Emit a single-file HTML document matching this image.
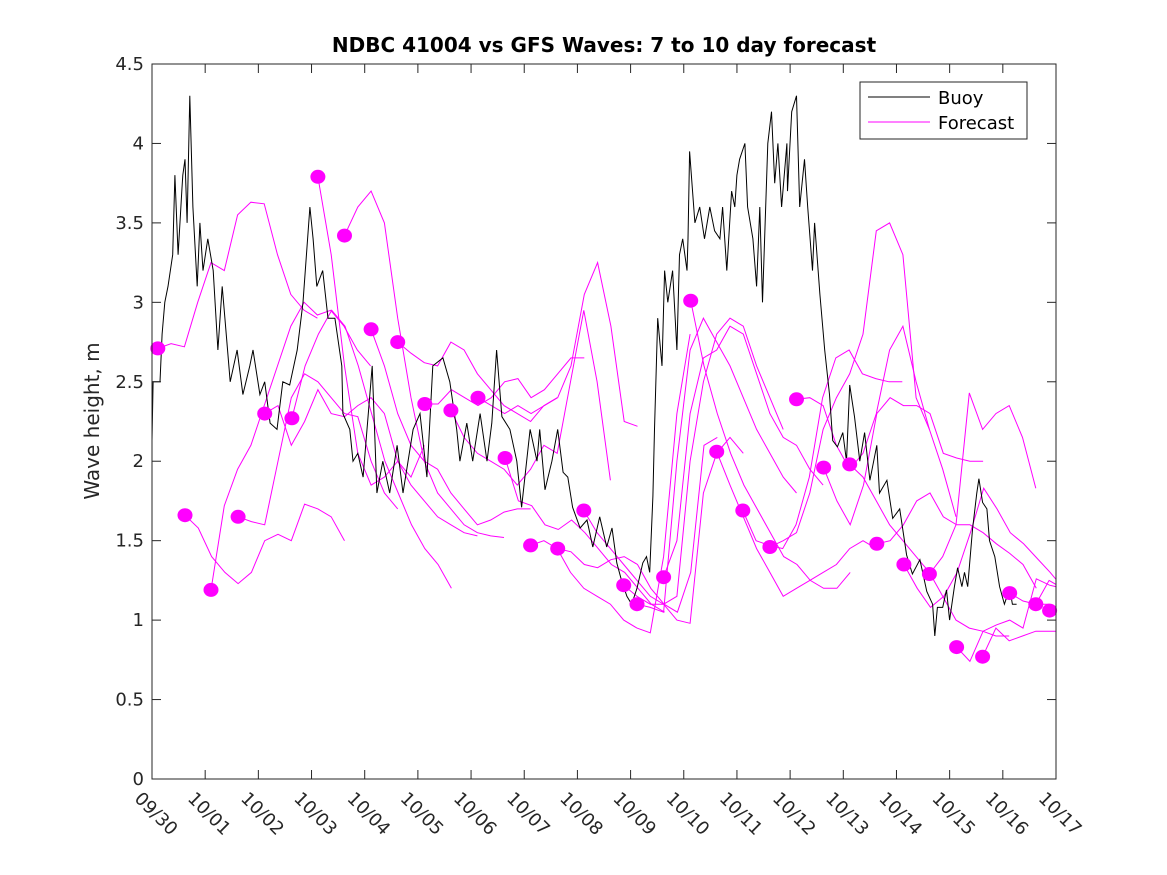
<!DOCTYPE html>
<html><head><meta charset="utf-8"><style>
html,body{margin:0;padding:0;background:#fff;}
svg{display:block;font-family:"DejaVu Sans","Liberation Sans",sans-serif;}
</style></head><body>
<svg id="chart" width="1167" height="875" viewBox="0 0 1167 875" xmlns="http://www.w3.org/2000/svg">
<rect x="0" y="0" width="1167" height="875" fill="#fff"/>
<rect x="152" y="64" width="904" height="715" fill="#fff"/>
<g id="forecasts"></g>
<g id="buoy"></g>
<g id="dots"></g>
<g id="axes"></g>
<text x="604" y="52" text-anchor="middle" font-size="20" font-weight="bold" fill="#000">NDBC 41004 vs GFS Waves: 7 to 10 day forecast</text>
<text transform="translate(99,421) rotate(-90)" text-anchor="middle" font-size="20" fill="#262626">Wave height, m</text>
<g>
<rect x="860" y="82" width="167" height="57" fill="#fff" stroke="#262626" stroke-width="1"/>
<line x1="868" y1="97" x2="930" y2="97" stroke="#000" stroke-width="1"/>
<text x="938" y="104" font-size="18" fill="#000">Buoy</text>
<line x1="868" y1="122" x2="930" y2="122" stroke="#ff00ff" stroke-width="1"/>
<text x="938" y="129" font-size="18" fill="#000">Forecast</text>
</g>
</svg>
<script>
const xTickLabels = ["09/30","10/01","10/02","10/03","10/04","10/05","10/06","10/07","10/08","10/09","10/10","10/11","10/12","10/13","10/14","10/15","10/16","10/17"];
const yTickValues = [0,0.5,1,1.5,2,2.5,3,3.5,4,4.5];
const yTickLabels = ["0","0.5","1","1.5","2","2.5","3","3.5","4","4.5"];
const buoyDays = [0,.02,.15,.19,.24,.30,.39,.43,.49,.56,.58,.62,.66,.71,.77,.85,.90,.96,1.05,1.15,1.24,1.32,1.37,1.47,1.60,1.71,1.84,1.90,2.03,2.12,2.22,2.35,2.46,2.59,2.73,2.84,2.97,3.03,3.10,3.21,3.31,3.44,3.57,3.59,3.72,3.78,3.87,3.97,4.14,4.23,4.34,4.47,4.61,4.72,4.91,5.04,5.17,5.28,5.47,5.60,5.73,5.79,5.92,6.03,6.17,6.30,6.39,6.48,6.58,6.73,6.86,6.95,7.11,7.24,7.29,7.39,7.52,7.63,7.73,7.82,7.91,8.05,8.18,8.29,8.42,8.55,8.65,8.74,8.83,8.93,9.02,9.12,9.23,9.30,9.36,9.42,9.45,9.51,9.59,9.64,9.70,9.79,9.87,9.92,9.98,10.06,10.08,10.11,10.21,10.30,10.39,10.49,10.58,10.68,10.73,10.81,10.90,10.96,11.00,11.05,11.15,11.20,11.30,11.37,11.43,11.48,11.58,11.65,11.71,11.77,11.84,11.94,11.95,12.03,12.12,12.18,12.27,12.33,12.42,12.46,12.56,12.65,12.74,12.80,12.89,12.99,13.06,13.12,13.21,13.31,13.40,13.50,13.63,13.68,13.82,13.93,14.06,14.19,14.30,14.44,14.57,14.68,14.72,14.77,14.87,14.94,15.00,15.09,15.15,15.23,15.28,15.34,15.43,15.51,15.55,15.62,15.70,15.75,15.85,15.94,16.03,16.13,16.18,16.26];
const buoyHeights = [2.13,2.5,2.5,2.8,3.0,3.1,3.3,3.8,3.3,3.7,3.8,3.9,3.5,4.3,3.6,3.1,3.5,3.2,3.4,3.2,2.7,3.1,2.9,2.5,2.7,2.42,2.6,2.7,2.42,2.5,2.24,2.2,2.5,2.48,2.7,3.0,3.6,3.4,3.1,3.2,2.9,2.9,2.6,2.3,2.2,2.0,2.05,1.9,2.6,1.8,2.0,1.8,2.1,1.8,2.2,2.3,1.9,2.6,2.65,2.5,2.2,2.0,2.24,2.0,2.3,2.0,2.24,2.7,2.28,2.2,2.0,1.71,2.2,2.0,2.2,1.82,2.0,2.2,1.93,1.9,1.71,1.58,1.63,1.46,1.65,1.46,1.58,1.36,1.25,1.15,1.1,1.2,1.36,1.4,1.3,1.78,2.2,2.9,2.6,3.2,3.0,3.2,2.7,3.3,3.4,3.2,3.4,3.95,3.5,3.6,3.4,3.6,3.45,3.4,3.6,3.2,3.7,3.6,3.8,3.9,4.0,3.6,3.4,3.1,3.6,3.0,4.0,4.2,3.75,4.0,3.6,4.0,3.7,4.2,4.3,3.6,3.9,3.6,3.2,3.5,3.05,2.7,2.42,2.13,2.09,2.18,2.0,2.48,2.28,2.0,2.18,1.88,2.1,1.8,1.88,1.64,1.7,1.41,1.29,1.38,1.18,1.1,0.9,1.08,1.08,1.19,1.0,1.21,1.33,1.21,1.3,1.21,1.57,1.8,1.89,1.74,1.7,1.5,1.4,1.21,1.1,1.2,1.1,1.1];
const forecastStepDays = 0.25;
const forecastStarts = [0.11,0.62,1.11,1.62,2.12,2.63,3.12,3.62,4.12,4.62,5.13,5.62,6.13,6.64,7.12,7.63,8.12,8.87,9.12,9.62,10.13,10.62,11.11,11.62,12.12,12.63,13.12,13.63,14.14,14.62,15.13,15.62,16.13,16.62,16.88];
const forecastValues = [
[2.71,2.74,2.72,3.0,3.25,3.2,3.55,3.63,3.62,3.3,3.05,2.95,2.9],
[1.66,1.58,1.4,1.3,1.23,1.3,1.5,1.54,1.5,1.73,1.7,1.65,1.5],
[1.19,1.72,1.95,2.1,2.35,2.6,2.85,3.0,2.92,2.95,2.85,2.7,2.6],
[1.65,1.62,1.6,2.0,2.4,2.55,2.5,2.4,2.3,2.28,2.0,1.8,1.7],
[2.3,2.35,2.1,2.25,2.45,2.3,2.28,2.35,2.4,2.3,2.0,1.9,2.1],
[2.27,2.6,2.8,2.95,2.85,2.6,2.3,2.0,1.8,1.6,1.45,1.35,1.2],
[3.79,3.3,2.6,2.05,1.85,1.9,2.0,1.85,1.75,1.65,1.6,1.55,1.53],
[3.42,3.6,3.7,3.5,2.9,2.4,2.0,1.8,1.7,1.6,1.55,1.53,1.52],
[2.83,2.6,2.3,2.1,2.0,1.95,1.8,1.7,1.6,1.63,1.68,1.7,1.7],
[2.75,2.68,2.62,2.6,2.75,2.7,2.55,2.45,2.35,2.3,2.25,2.35,2.4],
[2.36,2.36,2.45,2.4,2.35,2.4,2.5,2.52,2.4,2.45,2.55,2.65,2.65],
[2.32,2.15,2.05,2.0,1.95,1.85,1.95,2.1,2.05,2.5,2.95,2.5,1.88],
[2.4,2.35,2.3,2.35,2.3,2.35,2.4,2.6,3.05,3.25,2.85,2.25,2.22],
[2.02,1.75,1.72,1.6,1.57,1.63,1.55,1.45,1.35,1.3,1.2,1.1,1.05],
[1.47,1.5,1.45,1.3,1.2,1.15,1.1,1.0,0.95,0.92,1.4,2.3,2.8],
[1.45,1.43,1.35,1.33,1.38,1.4,1.35,1.2,1.1,1.05,1.3,2.1,2.15],
[1.69,1.55,1.45,1.35,1.25,1.15,1.1,1.0,0.98,1.8,2.05,2.15,2.05],
[1.22,1.15,1.1,1.1,1.15,2.0,2.5,2.8,2.9,2.85,2.6,2.4,2.2],
[1.1,1.08,1.05,2.0,2.7,2.9,2.75,2.6,2.4,2.2,2.05,1.9,1.8],
[1.27,1.5,2.3,2.65,2.7,2.85,2.8,2.55,2.3,2.15,2.1,1.95,1.85],
[3.01,2.6,2.3,2.05,1.85,1.7,1.55,1.4,1.35,1.25,1.2,1.2,1.3],
[2.06,1.85,1.65,1.45,1.3,1.15,1.2,1.25,1.3,1.35,1.45,1.5,1.45],
[1.69,1.5,1.47,1.45,1.6,1.9,2.4,2.65,2.7,2.55,2.52,2.5,2.5],
[1.46,1.5,1.55,1.8,2.2,2.4,2.55,2.8,3.45,3.5,3.3,2.4,2.2],
[2.39,2.4,2.35,2.1,1.95,2.05,2.3,2.7,2.85,2.5,2.2,1.95,1.65],
[1.96,1.75,1.6,1.85,2.3,2.4,2.35,2.35,2.3,2.05,2.02,2.0,2.0],
[1.98,1.9,1.75,1.6,1.5,1.4,1.3,1.15,1.0,0.95,0.93,0.9,0.9],
[1.48,1.5,1.6,1.75,1.8,1.65,1.6,1.6,1.55,1.48,1.42,1.35,1.2],
[1.35,1.2,1.08,1.15,1.3,1.55,1.83,1.7,1.55,1.48,1.39,1.3,1.2],
[1.29,1.4,1.6,2.43,2.2,2.3,2.35,2.15,1.83],
[0.83,0.74,0.93,0.97,1.0,0.95,1.26,1.22,1.2],
[0.77,0.95,0.87,0.9,0.93,0.93,0.93],
[1.17,1.12,1.1,1.1],
[1.1,1.25,1.2],
[1.06]
];
const NS='http://www.w3.org/2000/svg';
const X0=152,X1=1056,Y0=779,Y1=64,DMAX=17,VMAX=4.5;
function xs(d){return X0+(d/DMAX)*(X1-X0);}
function ys(v){return Y0-(v/VMAX)*(Y0-Y1);}
function mk(tag,attrs,parent){const e=document.createElementNS(NS,tag);for(const k in attrs)e.setAttribute(k,attrs[k]);parent.appendChild(e);return e;}
const svg=document.getElementById('chart');
// clip
const defs=mk('defs',{},svg);
const cp=mk('clipPath',{id:'clip'},defs);
mk('rect',{x:X0,y:Y1,width:X1-X0,height:Y0-Y1},cp);
const fg=document.getElementById('forecasts');
fg.setAttribute('clip-path','url(#clip)');
forecastValues.forEach((vals,i)=>{
  const pts=vals.map((v,j)=>xs(forecastStarts[i]+j*forecastStepDays).toFixed(1)+','+ys(v).toFixed(1)).join(' ');
  const pl=mk('polyline',{points:pts,fill:'none',stroke:'#ff00ff','stroke-width':1},fg);
  
  
});
const bg=document.getElementById('buoy');
const bpts=buoyDays.map((d,i)=>xs(d).toFixed(1)+','+ys(buoyHeights[i]).toFixed(1)).join(' ');
const bl=mk('polyline',{points:bpts,fill:'none',stroke:'#000','stroke-width':1},bg);


const dg=document.getElementById('dots');
forecastValues.forEach((vals,i)=>{
  const c=mk('ellipse',{cx:xs(forecastStarts[i]).toFixed(1),cy:ys(vals[0]).toFixed(1),rx:7.5,ry:7,fill:'#ff00ff'},dg);
  
  
});
const ag=document.getElementById('axes');
const box=mk('rect',{x:X0,y:Y1,width:X1-X0,height:Y0-Y1,fill:'none',stroke:'#262626','stroke-width':1},ag);


yTickValues.forEach((v,i)=>{
  const y=ys(v);
  mk('line',{x1:X0,y1:y,x2:X0+9,y2:y,stroke:'#262626'},ag);
  mk('line',{x1:X1,y1:y,x2:X1-9,y2:y,stroke:'#262626'},ag);
  const t=mk('text',{x:X0-8,y:y+6,'text-anchor':'end','font-size':18,fill:'#262626'},ag);
  t.textContent=yTickLabels[i];
  
  
});
xTickLabels.forEach((lab,i)=>{
  const x=xs(i);
  mk('line',{x1:x,y1:Y0,x2:x,y2:Y0-9,stroke:'#262626'},ag);
  mk('line',{x1:x,y1:Y1,x2:x,y2:Y1+9,stroke:'#262626'},ag);
  const t=mk('text',{transform:'translate('+(x-10)+',791) rotate(45)',x:0,y:12,'text-anchor':'start','font-size':18,fill:'#262626'},ag);
  t.textContent=lab;
  
  
});
</script>
</body></html>
